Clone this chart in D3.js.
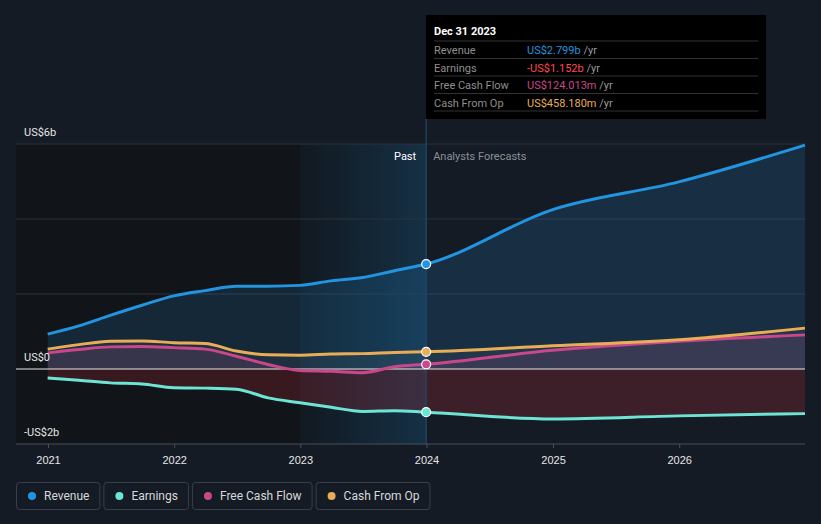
<!DOCTYPE html>
<html>
<head>
<meta charset="utf-8">
<script src="https://cdn.jsdelivr.net/npm/d3@7"></script>
<style>
  html, body { margin: 0; padding: 0; background: #151b25; }
  svg { display: block; font-family: Roboto, "Open Sans", sans-serif; }
</style>
</head>
<body>
<svg id="chart" width="821" height="524"></svg>
<script>
// Period ends (past quarters, then annual analyst forecasts).
var periods = [
  "2020-12-31", "2021-03-31", "2021-06-30", "2021-09-30", "2021-12-31",
  "2022-03-31", "2022-06-30", "2022-09-30", "2022-12-31",
  "2023-03-31", "2023-06-30", "2023-09-30", "2023-12-31",
  "2024-12-31", "2025-12-31", "2026-12-31"
];
// Values in US$ billions.
var revenue = [0.93, 1.15, 1.43, 1.70, 1.95, 2.09, 2.21, 2.21, 2.23, 2.35, 2.44, 2.62, 2.799,
               4.25, 4.99, 5.97];
var earnings = [-0.24, -0.30, -0.37, -0.40, -0.50, -0.51, -0.54, -0.77, -0.90, -1.02, -1.13, -1.11, -1.152,
                -1.33, -1.25, -1.19];
var freeCashFlow = [0.43, 0.52, 0.59, 0.60, 0.57, 0.53, 0.34, 0.12, -0.04, -0.06, -0.10, 0.06, 0.124,
                    0.50, 0.74, 0.91];
var cashFromOp = [0.53, 0.65, 0.74, 0.75, 0.70, 0.68, 0.48, 0.38, 0.37, 0.40, 0.41, 0.44, 0.458,
                  0.62, 0.78, 1.09];
var yearTicks = ["2021", "2022", "2023", "2024", "2025", "2026"];
var yTickValues = [6, 0, -2];
var yTickLabels = ["US$6b", "US$0", "-US$2b"];
var tooltipRows = [
  { label: "Revenue", value: "US$2.799b", color: "#2394df" },
  { label: "Earnings", value: "-US$1.152b", color: "#ff4a4a" },
  { label: "Free Cash Flow", value: "US$124.013m", color: "#c9478b" },
  { label: "Cash From Op", value: "US$458.180m", color: "#e9ad57" }
];

var parse = d3.timeParse("%Y-%m-%d");
var dates = periods.map(parse);
var nowDate = parse("2023-12-31");
var highlightStart = parse("2022-12-31");

var series = [
  { name: "Revenue", values: revenue, color: "#2394df", fill: "rgba(35,148,223,0.16)" },
  { name: "Earnings", values: earnings, color: "#6de5d4", fill: "rgba(200,45,60,0.22)" },
  { name: "Free Cash Flow", values: freeCashFlow, color: "#c9478b", fill: "rgba(201,71,139,0.14)" },
  { name: "Cash From Op", values: cashFromOp, color: "#e9ad57", fill: "rgba(140,140,140,0.10)" }
];

var svg = d3.select("#chart");
var plotLeft = 16, plotRight = 805, plotTop = 144, plotBottom = 444;

var x = d3.scaleTime()
  .domain([parse("2021-01-01"), parse("2026-12-31")])
  .range([48, plotRight]);
var y = d3.scaleLinear().domain([-2, 6]).range([plotBottom, plotTop]);

var defs = svg.append("defs");
var hl = defs.append("linearGradient").attr("id", "hl")
  .attr("x1", "0").attr("x2", "1").attr("y1", "0").attr("y2", "0");
hl.append("stop").attr("offset", "0").attr("stop-color", "#2394df").attr("stop-opacity", 0.04);
hl.append("stop").attr("offset", "1").attr("stop-color", "#2394df").attr("stop-opacity", 0.22);

// Past region darker background.
svg.append("rect")
  .attr("x", plotLeft).attr("y", plotTop)
  .attr("width", x(nowDate) - plotLeft).attr("height", plotBottom - plotTop)
  .attr("fill", "#111419");
svg.append("rect")
  .attr("x", x(highlightStart)).attr("y", plotTop)
  .attr("width", x(nowDate) - x(highlightStart)).attr("height", plotBottom - plotTop)
  .attr("fill", "url(#hl)");

// Gridlines.
svg.append("g").selectAll("line")
  .data([6, 4, 2])
  .enter().append("line")
  .attr("x1", plotLeft).attr("x2", plotRight)
  .attr("y1", d => y(d)).attr("y2", d => y(d))
  .attr("stroke", "#2d333d").attr("stroke-width", 1);

// Areas to zero.
series.forEach(function (s) {
  var area = d3.area()
    .x((d, i) => x(dates[i]))
    .y0(y(0))
    .y1(d => y(d))
    .curve(d3.curveMonotoneX);
  svg.append("path")
    .datum(s.values)
    .attr("d", area)
    .attr("fill", s.fill);
});

// Zero line.
svg.append("line")
  .attr("x1", plotLeft).attr("x2", plotRight)
  .attr("y1", y(0)).attr("y2", y(0))
  .attr("stroke", "#e8e8e8").attr("stroke-width", 1.2);

// Lines, drawn back to front.
[series[1], series[2], series[3], series[0]].forEach(function (s) {
  var line = d3.line()
    .x((d, i) => x(dates[i]))
    .y(d => y(d))
    .curve(d3.curveMonotoneX);
  svg.append("path")
    .datum(s.values)
    .attr("d", line)
    .attr("fill", "none")
    .attr("stroke", s.color)
    .attr("stroke-width", 3);
});

// Hover line at the latest reported period.
svg.append("line")
  .attr("x1", x(nowDate)).attr("x2", x(nowDate))
  .attr("y1", 119).attr("y2", plotBottom)
  .attr("stroke", "#1f4a69").attr("stroke-width", 1.2);

// Markers.
var nowIdx = periods.indexOf("2023-12-31");
series.forEach(function (s) {
  svg.append("circle")
    .attr("cx", x(nowDate)).attr("cy", y(s.values[nowIdx]))
    .attr("r", 4.5)
    .attr("fill", s.color)
    .attr("stroke", "#ffffff").attr("stroke-width", 1.2);
});

// Past / forecast labels.
svg.append("text")
  .attr("x", x(nowDate) - 10).attr("y", 160)
  .attr("text-anchor", "end").attr("fill", "#ffffff").attr("font-size", 11)
  .text("Past");
svg.append("text")
  .attr("x", x(nowDate) + 7).attr("y", 160)
  .attr("fill", "#8a8f96").attr("font-size", 11)
  .text("Analysts Forecasts");

// Y labels.
svg.append("g").selectAll("text")
  .data(yTickValues)
  .enter().append("text")
  .attr("x", 24).attr("y", d => y(d) - 8)
  .attr("fill", "#e6e6e6").attr("font-size", 11)
  .text((d, i) => yTickLabels[i]);

// X axis.
var xAxis = svg.append("g")
  .attr("transform", "translate(0," + plotBottom + ")")
  .call(d3.axisBottom(x)
    .tickValues(yearTicks.map(t => parse(t + "-01-01")))
    .tickFormat(d3.timeFormat("%Y"))
    .tickSize(4)
    .tickSizeOuter(0));
xAxis.select(".domain").remove();
xAxis.selectAll(".tick line").attr("stroke", "#4a4f58");
xAxis.selectAll(".tick text")
  .attr("fill", "#e6e6e6").attr("font-size", 11).attr("dy", "1.15em");
svg.append("line")
  .attr("x1", plotLeft).attr("x2", plotRight)
  .attr("y1", plotBottom).attr("y2", plotBottom)
  .attr("stroke", "#4a4f58");

// Tooltip box.
var tip = svg.append("g").attr("transform", "translate(426,15)");
tip.append("rect").attr("width", 340).attr("height", 104).attr("fill", "#000000");
tip.append("text")
  .attr("x", 8).attr("y", 20)
  .attr("fill", "#ffffff").attr("font-size", 11).attr("font-weight", "bold")
  .text("Dec 31 2023");
tooltipRows.forEach(function (r, i) {
  var ry = 26 + i * 17.5;
  tip.append("line")
    .attr("x1", 8).attr("x2", 332).attr("y1", ry).attr("y2", ry)
    .attr("stroke", "#333333");
  var t = tip.append("text")
    .attr("y", ry + 13).attr("font-size", 11);
  tip.append("text")
    .attr("x", 8).attr("y", ry + 13)
    .attr("fill", "#8f8f8f").attr("font-size", 11)
    .text(r.label);
  t.append("tspan").attr("x", 101).attr("fill", r.color).text(r.value);
  t.append("tspan").attr("fill", "#9a9a9a").text(" /yr");
});
tip.append("line")
  .attr("x1", 8).attr("x2", 332).attr("y1", 96).attr("y2", 96)
  .attr("stroke", "#333333");

// Legend.
var legendX = 16;
series.forEach(function (s) {
  var g = svg.append("g").attr("transform", "translate(" + legendX + ",482)");
  var label = g.append("text")
    .attr("x", 28).attr("y", 18)
    .attr("fill", "#d8d8d8").attr("font-size", 12)
    .text(s.name);
  var w = label.node().getComputedTextLength() + 38;
  g.insert("rect", "text")
    .attr("x", 0.5).attr("y", 0.5)
    .attr("width", w).attr("height", 27)
    .attr("rx", 3)
    .attr("fill", "none").attr("stroke", "#3a3f49");
  g.append("circle").attr("cx", 16).attr("cy", 14).attr("r", 4).attr("fill", s.color);
  legendX += w + 4;
});
</script>
</body>
</html>
